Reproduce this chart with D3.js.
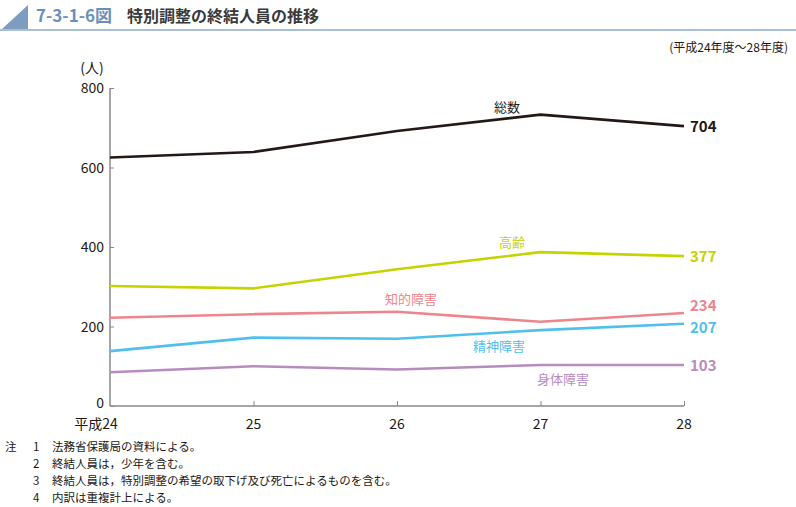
<!DOCTYPE html>
<html><head><meta charset="utf-8">
<script src="https://cdn.jsdelivr.net/npm/d3@7"></script>
<style>body{margin:0;background:#fff}svg{display:block;font-family:"Noto Sans CJK JP","Noto Sans",sans-serif}</style>
</head><body><svg id="c" width="796" height="507"></svg>
<script>
const years = ["平成24","25","26","27","28"];
const total = [625, 639, 692, 733, 704];
const elderly = [302, 296, 344, 387, 377];
const intellectual = [222, 231, 237, 212, 234];
const mental = [138, 172, 169, 191, 207];
const physical = [85, 100, 92, 103, 103];
const yTicks = [0, 200, 400, 600, 800];
const seriesNames = ["総数","高齢","知的障害","精神障害","身体障害"];
const notes = ["法務省保護局の資料による。","終結人員は，少年を含む。","終結人員は，特別調整の希望の取下げ及び死亡によるものを含む。","内訳は重複計上による。"];

const svg = d3.select("#c");
// header
svg.append("path").attr("d","M2,29 L28,5 L28,29 Z").attr("fill","#7c9cc0");
svg.append("line").attr("x1",0).attr("x2",796).attr("y1",30).attr("y2",30).attr("stroke","#a9bfd3").attr("stroke-width",2);
svg.append("text").attr("x",36).attr("y",22).attr("font-size",17).attr("font-weight","bold").attr("fill","#6b8fb8").text("7-3-1-6図");
svg.append("text").attr("x",127).attr("y",22).attr("font-size",16).attr("font-weight","bold").attr("fill","#3a3a3a").text("特別調整の終結人員の推移");
svg.append("text").attr("x",788).attr("y",52).attr("font-size",12).attr("text-anchor","end").attr("fill","#231815").text("(平成24年度～28年度)");

const x = d3.scalePoint().domain(years).range([110, 684]);
const y = d3.scaleLinear().domain([0, 800]).range([406, 88]);

// axes
const ya = svg.append("g").attr("transform","translate(110,0)")
  .call(d3.axisRight(y).tickValues(yTicks).tickSize(4).tickFormat(""));
ya.selectAll("line").attr("stroke","#888");
ya.select(".domain").remove();
svg.append("line").attr("x1",110).attr("x2",110).attr("y1",88).attr("y2",406).attr("stroke","#888").attr("stroke-width",1.5);
yTicks.forEach(v=>{
  svg.append("text").attr("x",104).attr("y",y(v)+(v===0?2:5)).attr("text-anchor","end").attr("font-size",14).attr("fill","#231815").text(v);
});
svg.append("text").attr("x",92).attr("y",73).attr("text-anchor","middle").attr("font-size",14).attr("fill","#231815").text("(人)");

const xa = svg.append("g").attr("transform","translate(0,406)")
  .call(d3.axisTop(x).tickSize(5).tickFormat(""));
xa.selectAll("line").attr("stroke","#888");
xa.selectAll(".tick").filter(d=>d===years[0]).remove();
xa.select(".domain").remove();
svg.append("line").attr("x1",110).attr("x2",684).attr("y1",406).attr("y2",406).attr("stroke","#888").attr("stroke-width",1.5);
years.forEach((yr,i)=>{
  svg.append("text").attr("x",x(yr)+(i===0?-14:0)).attr("y",429).attr("text-anchor","middle").attr("font-size",14).attr("fill","#231815").text(yr);
});

const series = [
  {name:seriesNames[0], vals:total, color:"#231815", lx:507, ly:112, dy:0},
  {name:seriesNames[1], vals:elderly, color:"#c5d300", lx:512, ly:247, dy:0},
  {name:seriesNames[2], vals:intellectual, color:"#ef858c", lx:411, ly:304, dy:-7},
  {name:seriesNames[3], vals:mental, color:"#4fbfee", lx:499, ly:351, dy:4},
  {name:seriesNames[4], vals:physical, color:"#b88bc0", lx:563, ly:384, dy:0}
];
const line = d3.line().x((d,i)=>x(years[i])).y(d=>y(d));
series.forEach(s=>{
  svg.append("path").attr("d",line(s.vals)).attr("fill","none").attr("stroke",s.color).attr("stroke-width",2.6);
  svg.append("text").attr("x",s.lx).attr("y",s.ly).attr("text-anchor","middle").attr("font-size",13).attr("fill",s.color).text(s.name);
  const last = s.vals[s.vals.length-1];
  svg.append("text").attr("x",690).attr("y",y(last)+5.5+s.dy).attr("font-size",15).attr("font-weight","bold").attr("fill",s.color).text(last);
});

// notes
svg.append("text").attr("x",5).attr("y",451).attr("font-size",11.5).attr("fill","#231815").text("注");
notes.forEach((n,i)=>{
  svg.append("text").attr("x",33).attr("y",451+i*17).attr("font-size",11.5).attr("fill","#231815").text(i+1);
  svg.append("text").attr("x",52).attr("y",451+i*17).attr("font-size",11.5).attr("fill","#231815").text(n);
});
</script></body></html>
